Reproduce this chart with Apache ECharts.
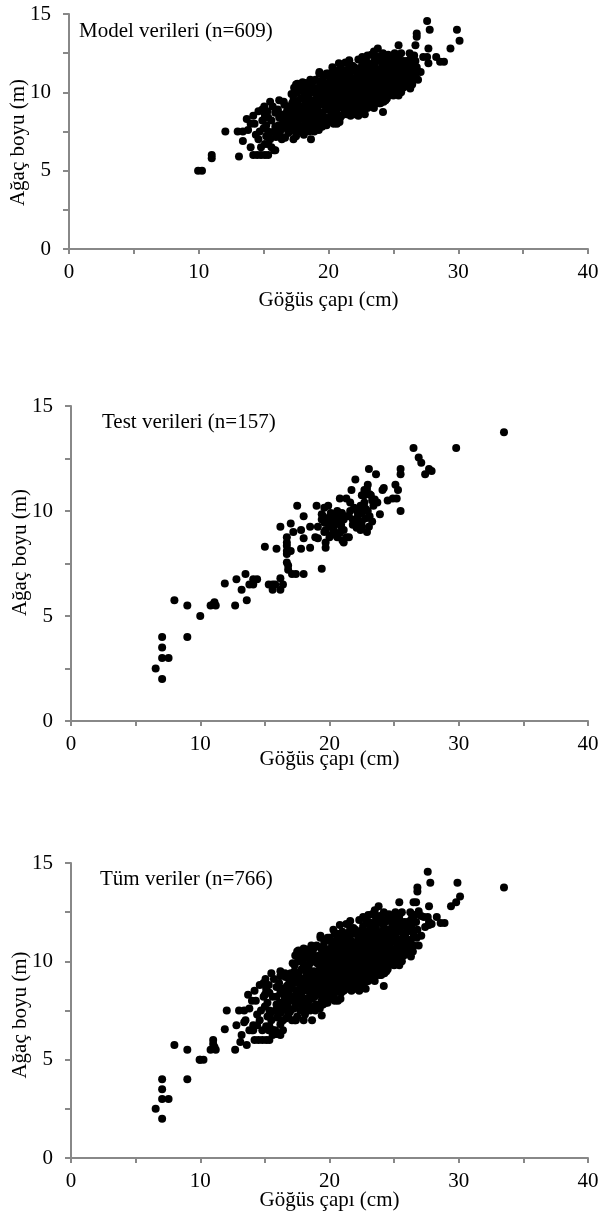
<!DOCTYPE html>
<html><head><meta charset="utf-8">
<script src="https://cdn.jsdelivr.net/npm/echarts@6/dist/echarts.min.js"></script>
<style>html,body{margin:0;padding:0;background:#fff}#c{width:600px;height:1214px}</style>
</head><body><div id="c"></div>
<script>
const xTitle = 'Göğüs çapı (cm)';
const yTitle = 'Ağaç boyu (m)';
const panelLabels = ['Model verileri (n=609)', 'Test verileri (n=157)', 'Tüm veriler (n=766)'];

const modelData = [
[9.95,5.0],[10.25,5.0],[11.0,6.0],[11.0,5.8],[12.05,7.5],[13.0,7.5],[13.1,5.9],[13.4,6.9],[13.4,7.5],[13.7,8.3],[14.0,8.0],[14.0,6.5],[14.2,8.5],[14.6,8.8],[14.6,7.0],[14.2,6.0],[14.5,6.0],[14.8,6.0],[15.1,6.0],[15.35,6.0],[14.8,6.5],[15.1,6.7],[15.35,6.7],[15.1,8.6],[15.35,7.5],[15.5,9.4],[15.6,6.5],[15.8,6.3],[15.9,6.3],[15.05,9.1],[15.35,8.4],[15.94,7.15],[16.2,9.5],[16.1,7.8],[16.4,7.9],[16.7,8.4],[16.97,9.1],[17.3,9.5],[17.6,10.55],[18.0,10.65],[17.7,10.1],[18.3,10.35],[18.65,7.0],[18.9,7.5],[19.3,11.3],[19.9,11.1],[20.4,11.4],[20.8,11.85],[20.65,8.0],[20.1,8.4],[19.7,7.9],[21.6,12.05],[22.6,12.25],[23.0,12.35],[23.8,12.8],[23.5,12.6],[24.2,8.75],[24.5,9.6],[24.2,12.5],[25.1,12.5],[25.4,13.0],[24.5,12.05],[25.55,11.85],[25.4,9.8],[25.8,11.0],[26.3,10.25],[26.3,12.1],[26.6,12.35],[26.7,13.0],[26.8,13.75],[26.8,13.55],[26.5,10.8],[26.9,10.8],[27.1,11.3],[27.6,14.55],[27.8,14.0],[27.7,12.8],[27.3,12.25],[27.6,12.25],[27.7,11.85],[28.3,12.25],[28.6,11.95],[28.9,11.95],[29.4,12.8],[29.9,14.0],[30.1,13.3],
[21.7,8.5],[22.3,8.5],[22.8,8.6],[23.5,9.0],[23.9,9.3],
[14.3,8.0],[14.9,8.2],[15.0,7.7],[14.7,7.5],[14.4,7.3],[13.8,7.6],[15.2,7.2],[14.9,8.9],
[15.5,7.0],[15.8,7.5],[15.2,7.9],[15.6,8.2],[15.9,8.7],[15.3,8.8],[15.7,9.1],[15.4,7.3],[15.9,7.8],[15.1,8.4],
[16.0,7.2],[16.3,7.6],[16.5,8.0],[16.2,8.4],[16.8,8.8],[16.6,9.2],[16.1,8.9],[16.9,7.4],[16.4,7.0],[16.7,8.2],[16.9,9.0],[16.3,8.6],
[16.15,7.9],[16.45,8.3],[16.75,7.7],[16.55,9.4],[16.85,8.5],[16.25,7.4],[16.65,7.1],[16.95,8.0],
[17.0,7.5],[17.2,8.0],[17.4,8.5],[17.1,9.0],[17.6,9.4],[17.3,9.8],[17.8,10.2],[17.5,7.2],[17.9,7.8],[17.7,8.6],[17.2,9.3],[17.5,10.5],[17.9,9.1],[17.4,7.8],[17.8,8.3],[17.1,8.7],[17.6,10.0],[17.3,7.0],
[17.05,8.2],[17.25,7.6],[17.45,9.1],[17.65,8.0],[17.85,9.6],[17.15,9.9],[17.35,10.3],[17.55,8.9],[17.75,7.5],[17.95,10.4],[17.45,8.3],[17.85,8.8],
[18.0,7.6],[18.2,8.1],[18.5,8.4],[18.1,8.9],[18.7,9.2],[18.4,9.6],[18.9,10.0],[18.3,10.4],[18.6,10.8],[18.8,7.7],[18.2,9.4],[18.5,9.9],[18.0,10.1],[18.9,8.6],[18.4,8.0],[18.7,10.5],[18.1,7.3],[18.6,8.9],[18.3,9.1],[18.8,9.5],[18.5,7.5],
[18.05,8.5],[18.25,7.9],[18.45,10.2],[18.65,9.4],[18.85,8.2],[18.15,9.8],[18.35,7.7],[18.55,9.0],[18.75,10.2],[18.95,9.2],[18.25,10.6],[18.45,8.7],[18.65,8.1],[18.85,10.7],
[19.0,7.8],[19.2,8.3],[19.5,8.7],[19.1,9.0],[19.7,9.4],[19.3,9.8],[19.8,10.2],[19.4,10.6],[19.6,11.0],[19.9,8.1],[19.2,10.3],[19.5,9.2],[19.0,10.8],[19.8,8.9],[19.4,8.0],[19.7,9.9],[19.1,9.5],[19.6,8.5],[19.3,11.2],[19.9,10.6],[19.5,7.8],[19.2,8.8],[19.8,9.6],[19.0,9.2],
[19.05,8.5],[19.25,9.6],[19.45,10.0],[19.65,10.4],[19.85,7.9],[19.15,10.1],[19.35,8.6],[19.55,10.8],[19.75,8.3],[19.95,9.3],[19.25,7.6],[19.45,9.4],[19.65,9.7],[19.85,11.2],[19.05,9.9],[19.55,8.0],
[20.0,8.2],[20.2,8.6],[20.5,9.0],[20.1,9.4],[20.7,9.8],[20.3,10.2],[20.8,10.6],[20.4,11.0],[20.6,11.4],[20.9,8.4],[20.2,10.8],[20.5,9.6],[20.0,11.2],[20.8,9.2],[20.4,8.0],[20.7,10.4],[20.1,10.0],[20.6,8.8],[20.3,11.6],[20.9,11.0],[20.5,10.1],[20.2,9.1],[20.8,9.9],[20.0,9.7],[20.6,10.9],[20.4,9.3],
[20.05,8.9],[20.25,10.4],[20.45,10.6],[20.65,9.4],[20.85,8.1],[20.15,11.0],[20.35,8.3],[20.55,11.1],[20.75,9.0],[20.95,10.2],[20.25,9.9],[20.45,8.7],[20.65,10.2],[20.85,11.3],[20.05,10.5],[20.55,8.5],[20.35,9.6],[20.95,9.6],
[21.0,8.5],[21.2,8.9],[21.5,9.3],[21.1,9.7],[21.7,10.1],[21.3,10.5],[21.8,10.9],[21.4,11.3],[21.6,11.7],[21.9,8.7],[21.2,11.0],[21.5,10.0],[21.0,11.5],[21.8,9.5],[21.4,8.6],[21.7,10.7],[21.1,10.3],[21.6,9.0],[21.3,11.9],[21.9,11.4],[21.5,10.6],[21.2,9.4],[21.8,10.3],[21.0,9.9],[21.6,11.1],[21.4,9.8],
[21.05,9.2],[21.25,10.1],[21.45,10.9],[21.65,10.4],[21.85,8.9],[21.15,11.2],[21.35,9.0],[21.55,11.5],[21.75,9.8],[21.95,10.6],[21.25,8.7],[21.45,9.5],[21.65,8.7],[21.85,11.7],[21.05,10.8],[21.55,9.2],[21.35,10.2],[21.95,9.2],
[22.0,8.6],[22.2,9.0],[22.5,9.4],[22.1,9.8],[22.7,10.2],[22.3,10.6],[22.8,11.0],[22.4,11.4],[22.6,11.8],[22.9,9.1],[22.2,11.1],[22.5,10.2],[22.0,11.6],[22.8,9.7],[22.4,8.7],[22.7,10.8],[22.1,10.4],[22.6,9.2],[22.3,12.1],[22.9,11.5],[22.5,10.7],[22.2,9.5],[22.8,10.4],[22.0,10.0],[22.6,11.3],[22.4,10.0],
[22.05,9.3],[22.25,10.3],[22.45,11.0],[22.65,10.5],[22.85,9.4],[22.15,11.4],[22.35,9.2],[22.55,11.6],[22.75,9.9],[22.95,10.7],[22.25,8.8],[22.45,9.7],[22.65,8.9],[22.85,12.0],[22.05,10.9],[22.55,9.0],[22.35,10.4],[22.95,9.9],
[23.0,9.0],[23.2,9.4],[23.5,9.8],[23.1,10.2],[23.7,10.6],[23.3,11.0],[23.8,11.4],[23.4,11.8],[23.6,12.2],[23.9,9.6],[23.2,11.5],[23.5,10.4],[23.0,11.9],[23.8,10.1],[23.4,9.2],[23.7,11.1],[23.1,10.8],[23.6,9.5],[23.3,12.4],[23.9,12.0],[23.5,11.2],[23.2,9.9],[23.8,10.8],[23.0,10.5],[23.6,11.6],[23.4,10.5],
[23.05,9.6],[23.25,10.6],[23.45,11.4],[23.65,10.9],[23.85,9.8],[23.15,11.6],[23.35,9.4],[23.55,12.0],[23.75,10.3],[23.95,11.1],[23.25,9.1],[23.45,10.0],[23.65,9.3],[23.85,12.3],[23.05,11.3],[23.55,10.6],[23.35,10.8],[23.95,10.4],
[24.0,9.3],[24.2,9.7],[24.5,10.1],[24.1,10.5],[24.7,10.9],[24.3,11.3],[24.8,11.7],[24.4,12.1],[24.6,12.4],[24.9,10.0],[24.2,11.8],[24.5,10.7],[24.0,12.2],[24.8,10.4],[24.4,9.5],[24.7,11.4],[24.1,11.1],[24.6,9.8],[24.3,10.3],[24.9,11.9],[24.5,11.5],[24.2,10.0],[24.8,11.1],[24.0,10.8],
[24.05,9.7],[24.25,10.7],[24.45,11.6],[24.65,11.1],[24.85,10.2],[24.15,11.9],[24.35,9.9],[24.55,12.2],[24.75,10.6],[24.95,11.4],[24.25,9.4],[24.45,10.4],[24.65,10.0],[24.85,12.2],[24.05,11.5],[24.55,11.0],
[25.0,9.8],[25.2,10.2],[25.5,10.6],[25.1,11.0],[25.7,11.4],[25.3,11.8],[25.8,12.0],[25.4,12.3],[25.6,10.0],[25.9,10.5],[25.2,11.5],[25.5,11.1],[25.0,12.0],[25.8,10.8],[25.4,9.9],[25.6,12.5],[25.1,10.4],[25.3,10.9],
[25.05,10.4],[25.25,10.8],[25.45,11.5],[25.65,11.8],[25.85,11.3],[25.15,12.2],[25.35,10.1],[25.55,12.0],[25.75,10.3],[25.95,11.0],[25.25,9.9],[25.45,10.3],[25.05,11.2],
[26.0,10.4],[26.2,10.9],[26.5,11.4],[26.1,11.8],[26.7,12.0],[26.3,11.1],[26.4,12.3],[26.0,11.5],[26.8,11.6],
[26.15,10.6],[26.35,11.7],[26.55,12.0],[26.75,11.2],[26.25,12.5],[26.45,10.5],[26.05,12.0]
];

const testData = [
[33.5,13.75],[29.8,13.0],[26.5,13.0],[26.9,12.55],[27.1,12.3],[27.4,11.75],[27.7,12.0],[27.9,11.9],[25.5,12.0],[25.5,11.75],[25.5,10.0],[23.05,12.0],[23.6,11.75],[22.0,11.5],[22.96,11.25],[21.7,11.0],[22.7,11.0],[24.1,11.0],[24.2,11.1],[25.1,11.25],[25.3,11.0],[24.5,10.5],[24.9,10.6],[25.2,10.6],[20.8,10.6],[21.3,10.6],[22.7,10.75],[23.2,10.75],[23.3,10.5],[23.4,10.25],[23.9,9.85],[23.3,9.5],[23.05,9.25],[22.9,9.0],[22.4,9.1],[22.1,9.2],[21.3,8.75],[21.1,8.5],
[17.5,10.25],[19.0,10.25],[19.9,10.25],[18.0,9.75],[19.6,10.15],[20.1,9.9],[20.6,10.0],[19.4,9.85],[19.4,9.6],[19.85,9.6],[20.6,9.5],[20.3,9.25],[20.9,9.25],[19.6,9.45],[19.7,9.1],[19.1,9.25],[18.5,9.25],[17.8,9.1],[17.2,9.0],[16.2,9.25],[17.0,9.4],[16.7,8.75],[16.7,8.5],[16.7,8.35],[16.7,8.1],[17.0,8.1],[16.7,7.95],[15.9,8.2],[15.0,8.3],[17.8,8.2],[18.0,8.7],[18.5,8.25],[18.9,8.75],[19.1,8.7],[19.7,8.5],[19.7,8.25],[20.1,8.85],[20.6,8.75],[20.8,8.95],[21.0,8.6],[21.5,8.75],
[16.7,7.55],[16.8,7.4],[16.8,7.2],[17.1,7.0],[17.4,7.0],[18.0,7.0],[19.4,7.25],[16.2,6.8],[16.4,6.5],[16.2,6.25],[15.6,6.5],[15.6,6.25],[15.3,6.5],[15.8,6.5],[14.1,6.75],[14.4,6.75],[13.8,6.5],[14.1,6.5],[13.5,7.0],[13.2,6.25],[12.8,6.75],[11.9,6.55],[13.6,5.75],[12.7,5.5],[11.1,5.65],[11.2,5.5],[10.8,5.5],[11.0,5.55],[10.0,5.0],[9.0,5.5],[8.0,5.75],[9.0,4.0],[7.05,4.0],[7.05,3.5],[7.05,3.0],[7.55,3.0],[6.55,2.5],[7.05,2.0],
[19.9,9.65],[20.4,9.0],[21.1,9.6],[21.5,9.75],[21.8,9.6],[22.1,10.1],[22.4,10.25],[22.7,10.4],[22.5,9.9],[22.2,9.75],[22.5,9.5],[22.8,9.65],[23.1,9.75],[22.96,10.0],[22.8,10.1],[22.7,10.15],[22.9,11.05],[22.5,10.75],[23.1,10.8],[22.4,10.05],[22.2,9.9],[21.9,10.15],[21.6,10.0],[21.8,9.35],[22.2,9.45],[22.5,9.25],[21.1,9.1],[20.9,9.35],[20.3,9.45],[20.0,9.25],[19.6,9.0],[20.0,8.75],[20.4,9.35],[21.3,9.75],[21.6,10.4],[20.96,9.9],[20.6,9.75],[20.1,9.75],[19.5,9.75],[20.3,9.0],[23.7,10.4],[23.5,10.55]
];

const allData = modelData.concat(testData);
const xTickValues = [0, 10, 20, 30, 40];
const yTickValues = [0, 5, 10, 15];

const FONT = '"Liberation Serif", "Times New Roman", serif';
const AX = '#888888';

const grids = [
  {left: 69, top: 14, width: 519, height: 235, outerBoundsMode: 'none', containLabel: false},
  {left: 71, top: 406, width: 517, height: 315, outerBoundsMode: 'none', containLabel: false},
  {left: 71, top: 863, width: 517, height: 295, outerBoundsMode: 'none', containLabel: false}
];
const xNameGaps = [41, 28, 32];
const yNamePad = [[0, 22, 0, 0], [0, 0, 0, 22], [0, 9, 0, 0]];
const datasets = [modelData, testData, allData];
const labelPos = [[79, 21], [102, 412], [100, 869]];

function xAxisFor(i) {
  return {
    gridIndex: i, type: 'value', min: 0, max: 40, interval: 5,
    name: xTitle, nameLocation: 'middle', nameGap: xNameGaps[i], nameMoveOverlap: false,
    nameTextStyle: {fontFamily: FONT, fontSize: 21, color: '#000'},
    axisLine: {show: true, onZero: false, lineStyle: {color: AX, width: 2}},
    axisTick: {show: true, inside: false, length: 5, lineStyle: {color: AX, width: 2}},
    axisLabel: {margin: 13, fontFamily: FONT, fontSize: 21, color: '#000',
      formatter: v => xTickValues.indexOf(v) >= 0 ? String(v) : ''},
    splitLine: {show: false}
  };
}
function yAxisFor(i) {
  return {
    gridIndex: i, type: 'value', min: 0, max: 15, interval: 2.5,
    name: yTitle, nameLocation: 'middle', nameGap: 40, nameMoveOverlap: false,
    nameTextStyle: {fontFamily: FONT, fontSize: 21, color: '#000', padding: yNamePad[i]},
    axisLine: {show: true, onZero: false, lineStyle: {color: AX, width: 2}},
    axisTick: {show: true, inside: false, length: 6, lineStyle: {color: AX, width: 2}},
    axisLabel: {margin: 18, fontFamily: FONT, fontSize: 21, color: '#000',
      formatter: v => yTickValues.indexOf(v) >= 0 ? String(v) : ''},
    splitLine: {show: false}
  };
}

const chart = echarts.init(document.getElementById('c'), null, {renderer: 'canvas'});
chart.setOption({
  animation: false,
  backgroundColor: '#fff',
  grid: grids,
  xAxis: [0, 1, 2].map(xAxisFor),
  yAxis: [0, 1, 2].map(yAxisFor),
  graphic: panelLabels.map((t, i) => ({
    type: 'text', left: labelPos[i][0], top: labelPos[i][1],
    style: {text: t, fontFamily: FONT, fontSize: 21, fill: '#000'}
  })),
  series: datasets.map((d, i) => ({
    type: 'scatter', xAxisIndex: i, yAxisIndex: i, data: d,
    symbol: 'circle', symbolSize: 8, large: false,
    itemStyle: {color: '#000', opacity: 1}, emphasis: {disabled: true}
  }))
});
</script>
</body></html>
